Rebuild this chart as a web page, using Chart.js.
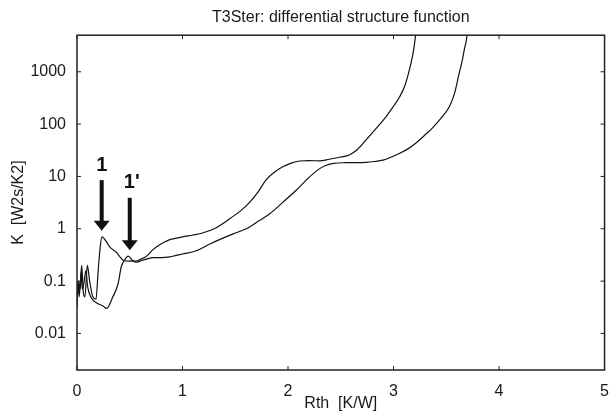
<!DOCTYPE html>
<html>
<head>
<meta charset="utf-8">
<script src="https://cdn.jsdelivr.net/npm/chart.js@4.4.0/dist/chart.umd.min.js"></script>
<style>
html, body { margin:0; padding:0; background:#fff; }
#chart_container { width:613px; height:416px; }
</style>
</head>
<body>
<div id="chart_container"><canvas id="myChart"></canvas></div>
<script>
// Rth [K/W] and K [W2s/K2]
var rthA = [0.00, 0.012, 0.02, 0.045, 0.06, 0.075, 0.098, 0.12, 0.15, 0.18, 0.20, 0.22, 0.236, 0.28, 0.31, 0.37, 0.44, 0.50, 0.55, 0.60, 0.66, 0.72, 0.78, 0.83, 0.88, 0.94, 1.00, 1.10, 1.19, 1.30, 1.38, 1.45, 1.55, 1.64, 1.72, 1.79, 1.87, 1.95, 2.03, 2.11, 2.20, 2.30, 2.39, 2.50, 2.58, 2.66, 2.74, 2.84, 2.93, 3.00, 3.06, 3.11, 3.15, 3.18, 3.20, 3.22];
var kA   = [0.032, 0.095, 0.05, 0.2, 0.06, 0.05, 0.2, 0.1, 0.05, 0.045, 0.15, 0.45, 0.7, 0.56, 0.45, 0.36, 0.25, 0.24, 0.24, 0.26, 0.30, 0.40, 0.49, 0.56, 0.62, 0.66, 0.70, 0.76, 0.83, 1.0, 1.25, 1.57, 2.2, 3.27, 5.2, 8.5, 12, 15.3, 18, 19.7, 20, 19.9, 21.3, 23.5, 25.7, 33, 50, 85, 139, 220, 337, 560, 1090, 2000, 3540, 8000];

var rthB = [0.00, 0.015, 0.03, 0.04, 0.05, 0.065, 0.085, 0.10, 0.13, 0.17, 0.20, 0.25, 0.28, 0.34, 0.39, 0.42, 0.45, 0.485, 0.53, 0.56, 0.62, 0.72, 0.80, 0.88, 0.94, 1.00, 1.13, 1.25, 1.35, 1.48, 1.61, 1.72, 1.83, 1.95, 2.08, 2.18, 2.28, 2.35, 2.43, 2.55, 2.74, 2.82, 2.90, 2.98, 3.06, 3.14, 3.21, 3.29, 3.37, 3.45, 3.53, 3.58, 3.62, 3.65, 3.67, 3.69, 3.71];
var kB   = [0.06, 0.1, 0.07, 0.15, 0.07, 0.09, 0.16, 0.08, 0.05, 0.04, 0.037, 0.033, 0.030, 0.05, 0.09, 0.19, 0.25, 0.30, 0.245, 0.23, 0.25, 0.28, 0.28, 0.29, 0.31, 0.33, 0.38, 0.5, 0.62, 0.8, 1.01, 1.4, 1.96, 3.2, 5.5, 8.8, 13.2, 16, 17.8, 18.3, 18.6, 19.3, 20.5, 23.5, 27.7, 34, 43, 60, 85, 130, 217, 400, 900, 1600, 2600, 4000, 8000];

var xTicks = [0, 1, 2, 3, 4, 5];
var yTicks = [0.01, 0.1, 1, 10, 100, 1000];
var yLabels = ["0.01", "0.1", "1", "10", "100", "1000"];

// arrows: x, top of shaft, tip (K values), label position
var arrows = [
    { label: "1",  x: 0.234, top: 8.5, tip: 0.92, labelK: 16.5 },
    { label: "1'", x: 0.50,  top: 3.9, tip: 0.39, labelK: 7.5 }
];

function toPoints(xs, ys){
    var pts = [];
    for (var i = 0; i < xs.length; i++){
        pts.push({ x: xs[i], y: ys[i] });
    }
    return pts;
}

var framePlugin = {
    id: 'frame',
    afterDatasetsDraw: function(chart){
        var ctx = chart.ctx;
        var a = chart.chartArea;
        var xs = chart.scales.x;
        var ys = chart.scales.y;
        ctx.save();
        ctx.strokeStyle = '#222';
        ctx.lineWidth = 1.5;
        ctx.strokeRect(a.left, a.top, a.right - a.left, a.bottom - a.top);

        // inward ticks on all four sides
        ctx.lineWidth = 1;
        ctx.beginPath();
        for (var i = 0; i < xTicks.length; i++){
            var px = xs.getPixelForValue(xTicks[i]);
            ctx.moveTo(px, a.bottom); ctx.lineTo(px, a.bottom - 4);
            ctx.moveTo(px, a.top); ctx.lineTo(px, a.top + 4);
        }
        for (var j = 0; j < yTicks.length; j++){
            var py = ys.getPixelForValue(yTicks[j]);
            ctx.moveTo(a.left, py); ctx.lineTo(a.left + 4, py);
            ctx.moveTo(a.right, py); ctx.lineTo(a.right - 4, py);
        }
        ctx.stroke();

        // arrows
        ctx.fillStyle = '#111';
        ctx.strokeStyle = '#111';
        for (var k = 0; k < arrows.length; k++){
            var ar = arrows[k];
            var ax = xs.getPixelForValue(ar.x);
            var top = ys.getPixelForValue(ar.top);
            var tip = ys.getPixelForValue(ar.tip);
            ctx.lineWidth = 4;
            ctx.beginPath();
            ctx.moveTo(ax, top);
            ctx.lineTo(ax, tip - 8);
            ctx.stroke();
            ctx.beginPath();
            ctx.moveTo(ax - 8, tip - 10);
            ctx.lineTo(ax + 8, tip - 10);
            ctx.lineTo(ax, tip);
            ctx.closePath();
            ctx.fill();
            ctx.font = 'bold 20px "Liberation Sans", Arial, sans-serif';
            ctx.textAlign = 'center';
            ctx.textBaseline = 'middle';
            ctx.fillText(ar.label, ax + (ar.label.length > 1 ? 2 : 0), ys.getPixelForValue(ar.labelK));
        }
        ctx.restore();
    }
};

Chart.defaults.font.family = '"Liberation Sans", Arial, sans-serif';
Chart.defaults.color = '#1a1a1a';

var ctx = document.getElementById("myChart").getContext('2d');
var myChart = new Chart(ctx, {
    type: 'line',
    data: {
        datasets: [{
            label: 'A',
            data: toPoints(rthA, kA),
            borderColor: '#111',
            borderWidth: 1.2,
            pointRadius: 0,
            cubicInterpolationMode: 'monotone',
            fill: false
        }, {
            label: 'B',
            data: toPoints(rthB, kB),
            borderColor: '#111',
            borderWidth: 1.2,
            pointRadius: 0,
            cubicInterpolationMode: 'monotone',
            fill: false
        }]
    },
    options: {
        responsive: true,
        maintainAspectRatio: false,
        animation: false,
        layout: { padding: { right: 7 } },
        plugins: {
            legend: { display: false },
            tooltip: { enabled: false },
            title: {
                display: true,
                fullSize: false,
                text: 'T3Ster: differential structure function',
                font: { size: 16, weight: 'normal' },
                padding: { top: 8, bottom: 8 }
            }
        },
        scales: {
            x: {
                type: 'linear',
                min: 0,
                max: 5,
                afterBuildTicks: function(s){ s.ticks = xTicks.map(function(v){ return { value: v }; }); },
                afterFit: function(s){ s.height = 46; },
                grid: { display: false },
                border: { display: false },
                ticks: { font: { size: 16 }, padding: 4, maxRotation: 0 },
                title: { display: true, text: 'Rth  [K/W]', font: { size: 16 }, padding: { top: 0, bottom: 3 } }
            },
            y: {
                type: 'logarithmic',
                min: 0.002,
                max: 5000,
                afterBuildTicks: function(s){ s.ticks = yTicks.map(function(v){ return { value: v }; }); },
                afterFit: function(s){ s.width = 77; },
                grid: { display: false },
                border: { display: false },
                ticks: {
                    font: { size: 16 },
                    padding: 3,
                    callback: function(v){
                        var i = yTicks.indexOf(v);
                        return i >= 0 ? yLabels[i] : '';
                    }
                },
                title: { display: true, text: 'K  [W2s/K2]', font: { size: 16 }, padding: { top: 9, bottom: 0 } }
            }
        }
    },
    plugins: [framePlugin]
});
</script>
</body>
</html>
